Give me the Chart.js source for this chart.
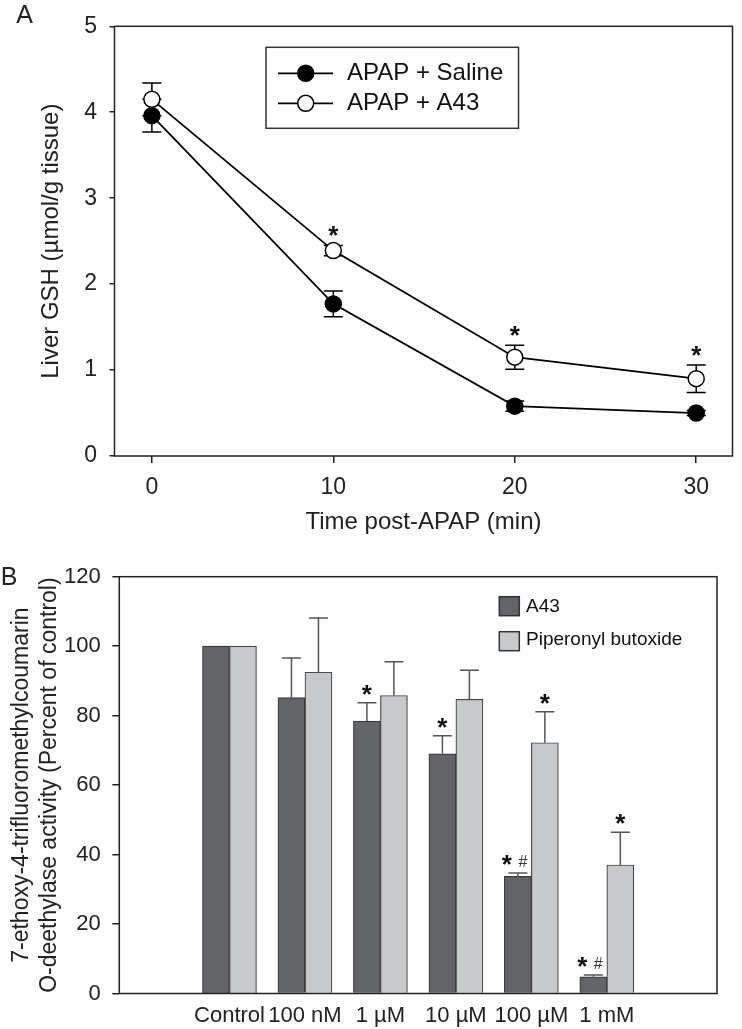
<!DOCTYPE html>
<html>
<head>
<meta charset="utf-8">
<script src="https://cdn.jsdelivr.net/npm/chart.js@4.4.1/dist/chart.umd.min.js"></script>
<style>
body { margin: 0; background: #fff; }
canvas { display: block; }
</style>
</head>
<body>
<canvas id="chartA" width="742" height="545"></canvas>
<canvas id="chartB" width="742" height="484"></canvas>
<script>
// Panel A - liver GSH over time
var timeMin = [0, 10, 20, 30];
var gshSaline = [3.96, 1.77, 0.58, 0.50];
var gshSalineErr = [0.19, 0.15, 0.06, 0.03];
var gshA43 = [4.15, 2.39, 1.15, 0.90];
var gshA43Err = [0.19, 0.06, 0.14, 0.16];
var sigGshA43 = ['', '*', '*', '*'];

// Panel B - O-deethylase activity
var doses = ['Control', '100 nM', '1 µM', '10 µM', '100 µM', '1 mM'];
var actA43 = [100, 85.2, 78.4, 69.0, 33.7, 4.8];
var actA43Err = [0, 11.4, 5.3, 5.2, 1.0, 0.5];
var actPbo = [100, 92.5, 85.8, 84.7, 72.2, 37.0];
var actPboErr = [0, 15.6, 9.7, 8.4, 8.9, 9.4];
var sigA43 = ['', '', '*', '*', '*#', '*#'];
var sigPbo = ['', '', '', '', '*', '*'];

var FONT = '"Liberation Sans", Arial, sans-serif';
Chart.defaults.font.family = FONT;
Chart.defaults.color = '#222';

function drawSig(ctx, label, x, yc) {
    if (!label) return;
    var hasHash = label.indexOf('#') >= 0;
    ctx.fillStyle = '#111';
    ctx.textAlign = 'center';
    ctx.textBaseline = 'alphabetic';
    ctx.font = 'bold 26px ' + FONT;
    ctx.fillText('*', hasHash ? x - 11 : x, yc + 0.575 * 26);
    if (hasHash) {
        ctx.font = '16px ' + FONT;
        ctx.fillStyle = '#333';
        ctx.fillText('#', x + 5, yc + 0.36 * 16 + 3);
    }
}

var framePlugin = {
    id: 'frame',
    afterDraw: function (chart) {
        var a = chart.chartArea, ctx = chart.ctx;
        ctx.save();
        ctx.strokeStyle = '#222';
        ctx.lineWidth = 1.5;
        ctx.strokeRect(a.left, a.top, a.right - a.left, a.bottom - a.top);
        var p = chart.options.plugins.frame;
        ctx.fillStyle = '#222';
        ctx.font = '25px ' + FONT;
        ctx.textAlign = 'center';
        ctx.textBaseline = 'alphabetic';
        ctx.fillText(p.panel, p.px, p.py);
        ctx.restore();
    }
};

//-------------
//- PANEL A -
//-------------
var errorBarsA = {
    id: 'errorBarsA',
    beforeDatasetsDraw: function (chart) {
        var xs = chart.scales.x, ys = chart.scales.y, ctx = chart.ctx;
        ctx.save();
        ctx.strokeStyle = '#000';
        ctx.lineWidth = 1.5;
        [[gshSaline, gshSalineErr], [gshA43, gshA43Err]].forEach(function (s) {
            for (var i = 0; i < timeMin.length; i++) {
                var px = xs.getPixelForValue(timeMin[i]);
                var top = ys.getPixelForValue(s[0][i] + s[1][i]);
                var bot = ys.getPixelForValue(s[0][i] - s[1][i]);
                ctx.beginPath();
                ctx.moveTo(px, top); ctx.lineTo(px, bot);
                ctx.moveTo(px - 9.5, top); ctx.lineTo(px + 9.5, top);
                ctx.moveTo(px - 9.5, bot); ctx.lineTo(px + 9.5, bot);
                ctx.stroke();
            }
        });
        ctx.restore();
    },
    afterDatasetsDraw: function (chart) {
        var xs = chart.scales.x, ys = chart.scales.y, ctx = chart.ctx;
        ctx.save();
        for (var i = 0; i < timeMin.length; i++) {
            var top = ys.getPixelForValue(gshA43[i] + gshA43Err[i]);
            drawSig(ctx, sigGshA43[i], xs.getPixelForValue(timeMin[i]), top - 16);
        }
        // legend box
        ctx.strokeStyle = '#333';
        ctx.lineWidth = 1.5;
        ctx.strokeRect(266, 47.3, 252.5, 81);
        var rows = [73.3, 103.3];
        chart.data.datasets.forEach(function (ds, k) {
            var y = rows[k];
            ctx.strokeStyle = '#000';
            ctx.lineWidth = 1.8;
            ctx.beginPath();
            ctx.moveTo(278, y); ctx.lineTo(333, y);
            ctx.stroke();
            ctx.beginPath();
            ctx.arc(305.7, y, 8, 0, Math.PI * 2);
            ctx.fillStyle = ds.pointBackgroundColor;
            ctx.fill();
            ctx.lineWidth = 1.5;
            ctx.stroke();
            ctx.fillStyle = '#111';
            ctx.font = '24px ' + FONT;
            ctx.textAlign = 'left';
            ctx.textBaseline = 'middle';
            ctx.fillText(ds.label, 347, y);
        });
        ctx.restore();
    }
};

var tickGrid = {
    drawOnChartArea: false,
    drawTicks: true,
    tickLength: 5,
    color: '#222',
    lineWidth: 1.5
};

new Chart(document.getElementById('chartA').getContext('2d'), {
    type: 'line',
    data: {
        datasets: [{
            label: 'APAP + Saline',
            data: timeMin.map(function (t, i) { return { x: t, y: gshSaline[i] }; }),
            borderColor: '#000',
            borderWidth: 1.8,
            pointRadius: 8,
            pointBorderWidth: 1.5,
            pointBorderColor: '#000',
            pointBackgroundColor: '#000'
        }, {
            label: 'APAP + A43',
            data: timeMin.map(function (t, i) { return { x: t, y: gshA43[i] }; }),
            borderColor: '#000',
            borderWidth: 1.8,
            pointRadius: 8,
            pointBorderWidth: 1.5,
            pointBorderColor: '#000',
            pointBackgroundColor: '#fff'
        }]
    },
    options: {
        responsive: false,
        animation: false,
        layout: { padding: { top: 19.3, right: 1.4, left: 0, bottom: 0 } },
        plugins: {
            legend: { display: false },
            tooltip: { enabled: false },
            frame: { panel: 'A', px: 24.7, py: 23 }
        },
        scales: {
            x: {
                type: 'linear',
                min: -2.06,
                max: 32,
                afterBuildTicks: function (s) { s.ticks = timeMin.map(function (v) { return { value: v }; }); },
                afterFit: function (s) { s.height = 89; },
                grid: Object.assign({}, tickGrid, { tickLength: 7 }),
                border: { display: false },
                ticks: { font: { size: 23 }, padding: 11.2, color: '#222' },
                title: { display: true, text: 'Time post-APAP (min)', font: { size: 24 }, padding: { bottom: 8.6 }, color: '#222' }
            },
            y: {
                min: 0,
                max: 5,
                afterFit: function (s) { s.width = 114.5; },
                grid: tickGrid,
                border: { display: false },
                ticks: { stepSize: 1, font: { size: 23 }, padding: 12.5, color: '#222' },
                title: { display: true, text: 'Liver GSH (µmol/g tissue)', font: { size: 24 }, padding: { top: 36.6 }, color: '#222' }
            }
        }
    },
    plugins: [errorBarsA, framePlugin]
});

//-------------
//- PANEL B -
//-------------
var errorBarsB = {
    id: 'errorBarsB',
    afterDatasetsDraw: function (chart) {
        var ys = chart.scales.y, ctx = chart.ctx;
        var sets = [[actA43, actA43Err, sigA43], [actPbo, actPboErr, sigPbo]];
        ctx.save();
        sets.forEach(function (s, di) {
            var meta = chart.getDatasetMeta(di);
            for (var i = 0; i < doses.length; i++) {
                var bar = meta.data[i];
                var top = ys.getPixelForValue(s[0][i] + s[1][i]);
                if (s[1][i] > 0) {
                    ctx.strokeStyle = '#555';
                    ctx.lineWidth = 1.5;
                    ctx.beginPath();
                    ctx.moveTo(bar.x, bar.y); ctx.lineTo(bar.x, top);
                    ctx.moveTo(bar.x - 9.5, top); ctx.lineTo(bar.x + 9.5, top);
                    ctx.stroke();
                }
                drawSig(ctx, s[2][i], bar.x, top - 15);
            }
        });
        // legend
        var rows = [[51.7, 61.7], [86.7, 95]];
        chart.data.datasets.forEach(function (ds, k) {
            ctx.fillStyle = ds.backgroundColor;
            ctx.fillRect(499.3, rows[k][0], 20, 19);
            ctx.strokeStyle = '#333';
            ctx.lineWidth = 1.5;
            ctx.strokeRect(499.3, rows[k][0], 20, 19);
            ctx.fillStyle = '#111';
            ctx.font = '19px ' + FONT;
            ctx.textAlign = 'left';
            ctx.textBaseline = 'middle';
            ctx.fillText(ds.label, 526, rows[k][1]);
        });
        ctx.restore();
    }
};

new Chart(document.getElementById('chartB').getContext('2d'), {
    type: 'bar',
    data: {
        datasets: [{
            label: 'A43',
            data: actA43.map(function (v, i) { return { x: i, y: v }; }),
            backgroundColor: '#636468',
            borderColor: '#3a3a3a',
            borderWidth: 1.2,
            barThickness: 27
        }, {
            label: 'Piperonyl butoxide',
            data: actPbo.map(function (v, i) { return { x: i, y: v }; }),
            backgroundColor: '#c8c9cb',
            borderColor: '#4a4a4a',
            borderWidth: 1.2,
            barThickness: 27
        }]
    },
    options: {
        responsive: false,
        animation: false,
        layout: { padding: { top: 31.7, right: 25, left: 0, bottom: 0 } },
        plugins: {
            legend: { display: false },
            tooltip: { enabled: false },
            frame: { panel: 'B', px: 9, py: 40 }
        },
        scales: {
            x: {
                type: 'linear',
                min: -0.8,
                max: 5.8,
                afterBuildTicks: function (s) { s.ticks = doses.map(function (d, i) { return { value: i }; }); },
                afterFit: function (s) { s.height = 35.5; },
                grid: { display: false, drawTicks: false },
                border: { display: false },
                ticks: {
                    font: { size: 22 },
                    padding: 9.3,
                    color: '#222',
                    callback: function (v) { return doses[v]; }
                }
            },
            y: {
                min: 0,
                max: 120,
                afterFit: function (s) { s.width = 119.3; },
                grid: Object.assign({}, tickGrid, { tickLength: 7 }),
                border: { display: false },
                ticks: { stepSize: 20, font: { size: 22 }, padding: 11.6, color: '#222' },
                title: {
                    display: true,
                    text: ['7-ethoxy-4-trifluoromethylcoumarin', 'O-deethylase activity (Percent of control)'],
                    font: { size: 23, lineHeight: 1.235 },
                    padding: { top: 7.1 },
                    color: '#222'
                }
            }
        }
    },
    plugins: [errorBarsB, framePlugin]
});
</script>
</body>
</html>
